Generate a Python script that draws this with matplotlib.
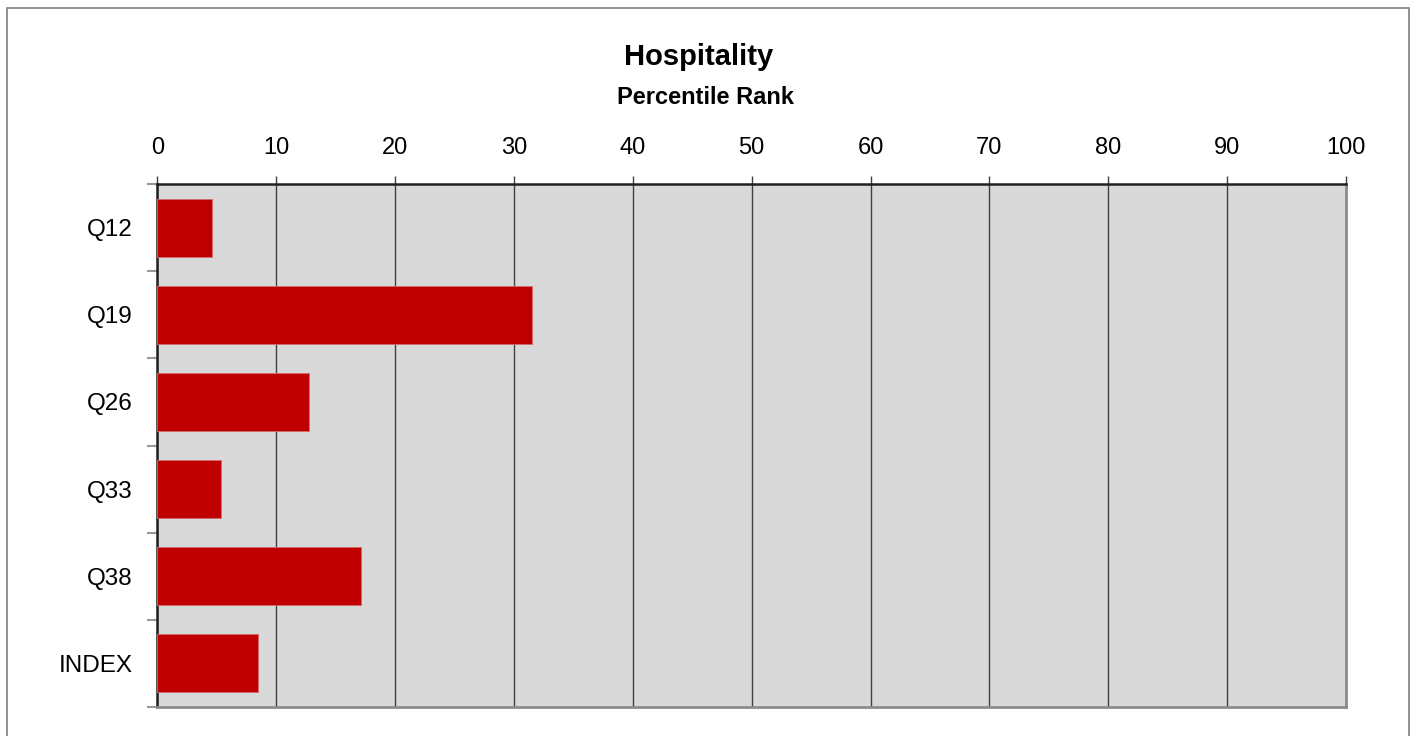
import matplotlib.pyplot as plt
from matplotlib.patches import Rectangle

plt.rcParams["font.family"] = ["Liberation Sans", "DejaVu Sans"]

# data
categories = ["Q12", "Q19", "Q26", "Q33", "Q38", "INDEX"]
values = [4.6, 31.5, 12.8, 5.4, 17.1, 8.5]
xticks = [0, 10, 20, 30, 40, 50, 60, 70, 80, 90, 100]

W, H = 1413, 736
fig = plt.figure(figsize=(W / 100, H / 100), dpi=100)

# outer chart border
fig.patches.append(Rectangle((7 / W, -0.05), (1409 - 7) / W, 1.05 - 8 / H,
                             transform=fig.transFigure, fill=False,
                             edgecolor="#7f7f7f", lw=1.2))

ax = fig.add_axes([157.3 / W, 1 - 706.7 / H, (1346 - 157.3) / W, (706.7 - 184.3) / H])
ax.set_facecolor("#d9d9d9")

ypos = list(range(len(categories)))
ax.barh(ypos, values, height=0.66, color="#c00000", edgecolor="#d46a6a",
        linewidth=0.6, zorder=3)
ax.set_ylim(len(categories) - 0.5, -0.5)
ax.set_xlim(0, 100)

ax.xaxis.tick_top()
ax.set_xticks(xticks)
ax.set_xticklabels([str(v) for v in xticks], fontsize=17)
ax.tick_params(axis="x", direction="out", length=6, width=1, color="#404040", pad=12)
ax.grid(axis="x", color="#404040", lw=1.0, zorder=1)

ax.set_yticks(ypos)
ax.set_yticklabels(categories, fontsize=17.5)
ax.set_yticks([i + 0.5 for i in range(-1, len(categories))], minor=True)
ax.tick_params(axis="y", which="major", length=0, pad=18)
ax.tick_params(axis="y", which="minor", length=7, width=1.5, color="#999999")

ax.spines["top"].set_color("#202020")
ax.spines["top"].set_linewidth(1.8)
ax.spines["left"].set_color("#202020")
ax.spines["left"].set_linewidth(1.8)
ax.spines["bottom"].set_color("#8c8c8c")
ax.spines["bottom"].set_linewidth(2)
ax.spines["right"].set_color("#8c8c8c")
ax.spines["right"].set_linewidth(2)

fig.text(699 / W, 1 - 57 / H, "Hospitality", ha="center", va="center",
         fontsize=21, fontweight="bold")
fig.text(705.5 / W, 1 - 98 / H, "Percentile Rank", ha="center", va="center",
         fontsize=17, fontweight="bold")

fig.savefig("out.png", dpi=100)
